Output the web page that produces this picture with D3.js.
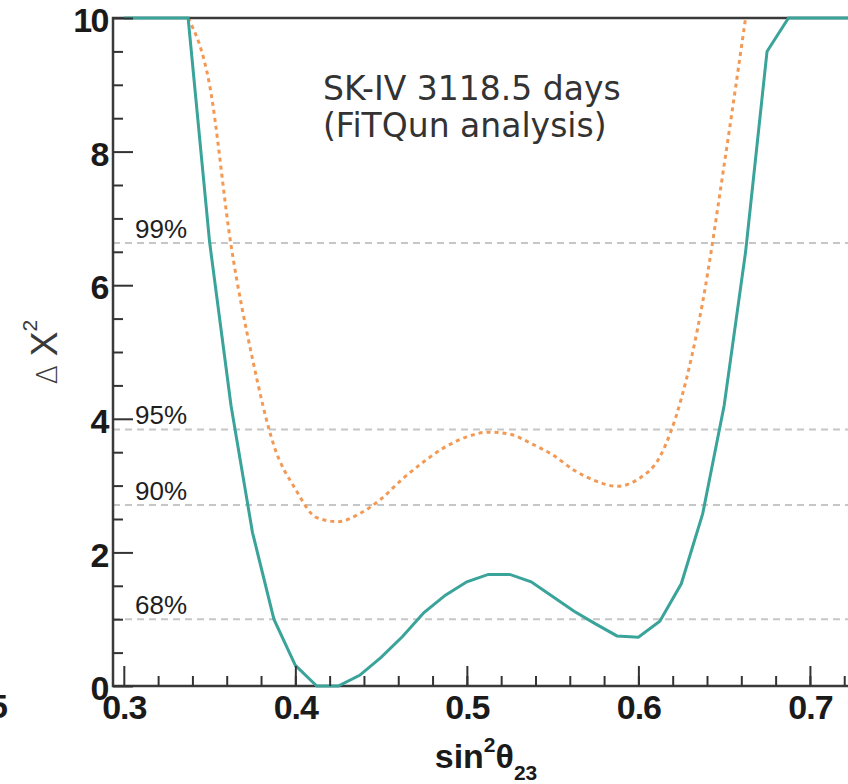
<!DOCTYPE html>
<html lang="en">
    <head>
        <meta charset="utf-8">
        <title>SK-IV delta chi2 vs sin2theta23</title>
        <script type="text/javascript" src="https://cdn.jsdelivr.net/npm/d3@7"></script>
        <style>
            body { margin: 0; background: #fff; }
            svg { display: block; }
            .tick text { font-family: "Liberation Sans", Arial, sans-serif; font-weight: bold; fill: #1a1a1a; }
            .tick line { stroke: #333; stroke-width: 2; }
        </style>
    </head>
    <body>
        <script type="text/javascript">
            // sin^2(theta23) grid of the scan
            var sin2 = [0.3, 0.3125, 0.325, 0.3375, 0.35, 0.3625, 0.375, 0.3875, 0.4, 0.4125,
                        0.425, 0.4375, 0.45, 0.4625, 0.475, 0.4875, 0.5, 0.5125, 0.525, 0.5375,
                        0.55, 0.5625, 0.575, 0.5875, 0.6, 0.6125, 0.625, 0.6375, 0.65, 0.6625,
                        0.675, 0.6875, 0.7, 0.7125, 0.725];

            // solid teal curve (drawn at 10 where it leaves the frame)
            var chiSolid = [10, 10, 10, 10, 6.65, 4.2, 2.3, 1.0, 0.31, 0,
                            0, 0.16, 0.43, 0.74, 1.1, 1.36, 1.56, 1.67, 1.67, 1.56,
                            1.34, 1.12, 0.93, 0.75, 0.73, 0.97, 1.53, 2.58, 4.2, 6.5,
                            9.5, 10, 10, 10, 10];

            // dotted orange curve, only the part inside the frame (0.3375 .. 0.6625)
            var sin2Dotted = sin2.slice(3, 30);
            var chiDotted = [10, 9.0, 6.6, 4.9, 3.6, 2.95, 2.52, 2.46, 2.58, 2.8,
                             3.1, 3.36, 3.58, 3.73, 3.8, 3.77, 3.63, 3.46, 3.23, 3.07,
                             2.99, 3.1, 3.43, 4.3, 5.75, 7.8, 10];

            // confidence levels
            var clLabels = ["99%", "95%", "90%", "68%"];
            var clValues = [6.63, 3.84, 2.71, 1.0];

            var xMajor = [0.3, 0.4, 0.5, 0.6, 0.7];
            var yMajor = [0, 2, 4, 6, 8, 10];

            var w = 848;
            var h = 784;

            var xScale = d3.scaleLinear()
                            .domain([0.2937, 0.7222])
                            .range([113, 848]);

            var yScale = d3.scaleLinear()
                            .domain([0, 10])
                            .range([686, 18]);

            var svg = d3.select("body")
                        .append("svg")
                        .attr("width", w)
                        .attr("height", h);

            // confidence level lines + labels
            svg.selectAll("line.cl")
                .data(clValues)
                .enter()
                .append("line")
                .attr("class", "cl")
                .attr("x1", xScale(0.2937))
                .attr("x2", w)
                .attr("y1", function(d){ return yScale(d); })
                .attr("y2", function(d){ return yScale(d); })
                .attr("stroke", "#c6c6c6")
                .attr("stroke-width", 2)
                .attr("stroke-dasharray", "7,5");

            svg.selectAll("text.cl")
                .data(clValues)
                .enter()
                .append("text")
                .attr("class", "cl")
                .attr("x", 135)
                .attr("y", function(d){ return yScale(d) - 5; })
                .text(function(d, i){ return clLabels[i]; })
                .attr("font-family", "Liberation Sans, Arial, sans-serif")
                .attr("font-size", "26px")
                .attr("fill", "#1e1e1e");

            // curves
            var line = d3.line()
                        .x(function(d){ return xScale(d[0]); })
                        .y(function(d){ return yScale(d[1]); });

            svg.append("path")
                .datum(d3.zip(sin2Dotted, chiDotted))
                .attr("d", line.curve(d3.curveMonotoneX))
                .attr("fill", "none")
                .attr("stroke", "#f29a55")
                .attr("stroke-width", 3)
                .attr("stroke-dasharray", "4,4");

            // frame (left, bottom, top)
            svg.append("path")
                .attr("d", "M" + w + "," + yScale(10) + "H" + xScale(0.2937) + "V" + yScale(0) + "H" + w)
                .attr("fill", "none")
                .attr("stroke", "#3a3a3a")
                .attr("stroke-width", 2.5);

            svg.append("path")
                .datum(d3.zip(sin2, chiSolid))
                .attr("d", line.curve(d3.curveLinear))
                .attr("fill", "none")
                .attr("stroke", "#3aa39a")
                .attr("stroke-width", 3);

            // x axis: ticks point up into the frame
            var xAxis = d3.axisBottom(xScale)
                            .tickValues(xMajor)
                            .tickSizeInner(-20)
                            .tickSizeOuter(0)
                            .tickPadding(9)
                            .tickFormat(d3.format(".1f"));

            var gx = svg.append("g")
                        .attr("transform", "translate(0," + yScale(0) + ")")
                        .call(xAxis);
            gx.select(".domain").remove();
            gx.selectAll(".tick text").attr("font-size", "34px").attr("letter-spacing", "-1px");

            var gxm = svg.append("g")
                        .attr("transform", "translate(0," + yScale(0) + ")")
                        .call(d3.axisBottom(xScale)
                                .tickValues(d3.range(0.32, 0.721, 0.02))
                                .tickSizeInner(-10)
                                .tickSizeOuter(0)
                                .tickFormat(""));
            gxm.select(".domain").remove();

            // y axis: ticks point right
            var yAxis = d3.axisLeft(yScale)
                            .tickValues(yMajor)
                            .tickSizeInner(-20)
                            .tickSizeOuter(0)
                            .tickPadding(5);

            var gy = svg.append("g")
                        .attr("transform", "translate(" + xScale(0.2937) + ",0)")
                        .call(yAxis);
            gy.select(".domain").remove();
            gy.selectAll(".tick text")
                .attr("font-size", "34px")
                .attr("letter-spacing", "-1.5px")
                .attr("dy", "0.4em");

            var gym = svg.append("g")
                        .attr("transform", "translate(" + xScale(0.2937) + ",0)")
                        .call(d3.axisLeft(yScale)
                                .tickValues(d3.range(0.5, 10, 0.5).filter(function(d){ return d % 2 !== 0; }))
                                .tickSizeInner(-10)
                                .tickSizeOuter(0)
                                .tickFormat(""));
            gym.select(".domain").remove();

            // stray label of the neighbouring panel
            svg.append("text")
                .attr("x", 8)
                .attr("y", 718)
                .attr("text-anchor", "end")
                .attr("font-family", "Liberation Sans, Arial, sans-serif")
                .attr("font-weight", "bold")
                .attr("font-size", "34px")
                .attr("fill", "#1a1a1a")
                .text("5");

            // axis titles
            var xt = svg.append("text")
                        .attr("x", 486)
                        .attr("y", 768)
                        .attr("text-anchor", "middle")
                        .attr("font-family", "Liberation Sans, Arial, sans-serif")
                        .attr("font-weight", "bold")
                        .attr("font-size", "34px")
                        .attr("fill", "#1a1a1a");
            xt.append("tspan").text("sin");
            xt.append("tspan").attr("dy", -16).attr("font-size", "21px").text("2");
            xt.append("tspan").attr("dy", 16).text("θ");
            xt.append("tspan").attr("dy", 12).attr("font-size", "21px").text("23");

            var yt = svg.append("text")
                        .attr("transform", "translate(57,352) rotate(-90)")
                        .attr("text-anchor", "middle")
                        .attr("font-family", "Liberation Sans, Arial, sans-serif")
                        .attr("font-size", "37px")
                        .attr("fill", "#3a3a3a");
            yt.append("tspan").attr("font-size", "28px").attr("font-family", "DejaVu Sans, sans-serif").attr("font-weight", "200").text("Δ ");
            yt.append("tspan").text("X");
            yt.append("tspan").attr("dy", -20).attr("font-size", "21px").text("2");

            // annotation
            svg.append("text")
                .attr("x", 323)
                .attr("y", 100)
                .attr("font-family", "DejaVu Sans, Verdana, sans-serif")
                .attr("font-size", "33px")
                .attr("fill", "#333")
                .text("SK-IV 3118.5 days");

            svg.append("text")
                .attr("x", 323)
                .attr("y", 137)
                .attr("font-family", "DejaVu Sans, Verdana, sans-serif")
                .attr("font-size", "33px")
                .attr("fill", "#333")
                .text("(FiTQun analysis)");
        </script>
    </body>
</html>
